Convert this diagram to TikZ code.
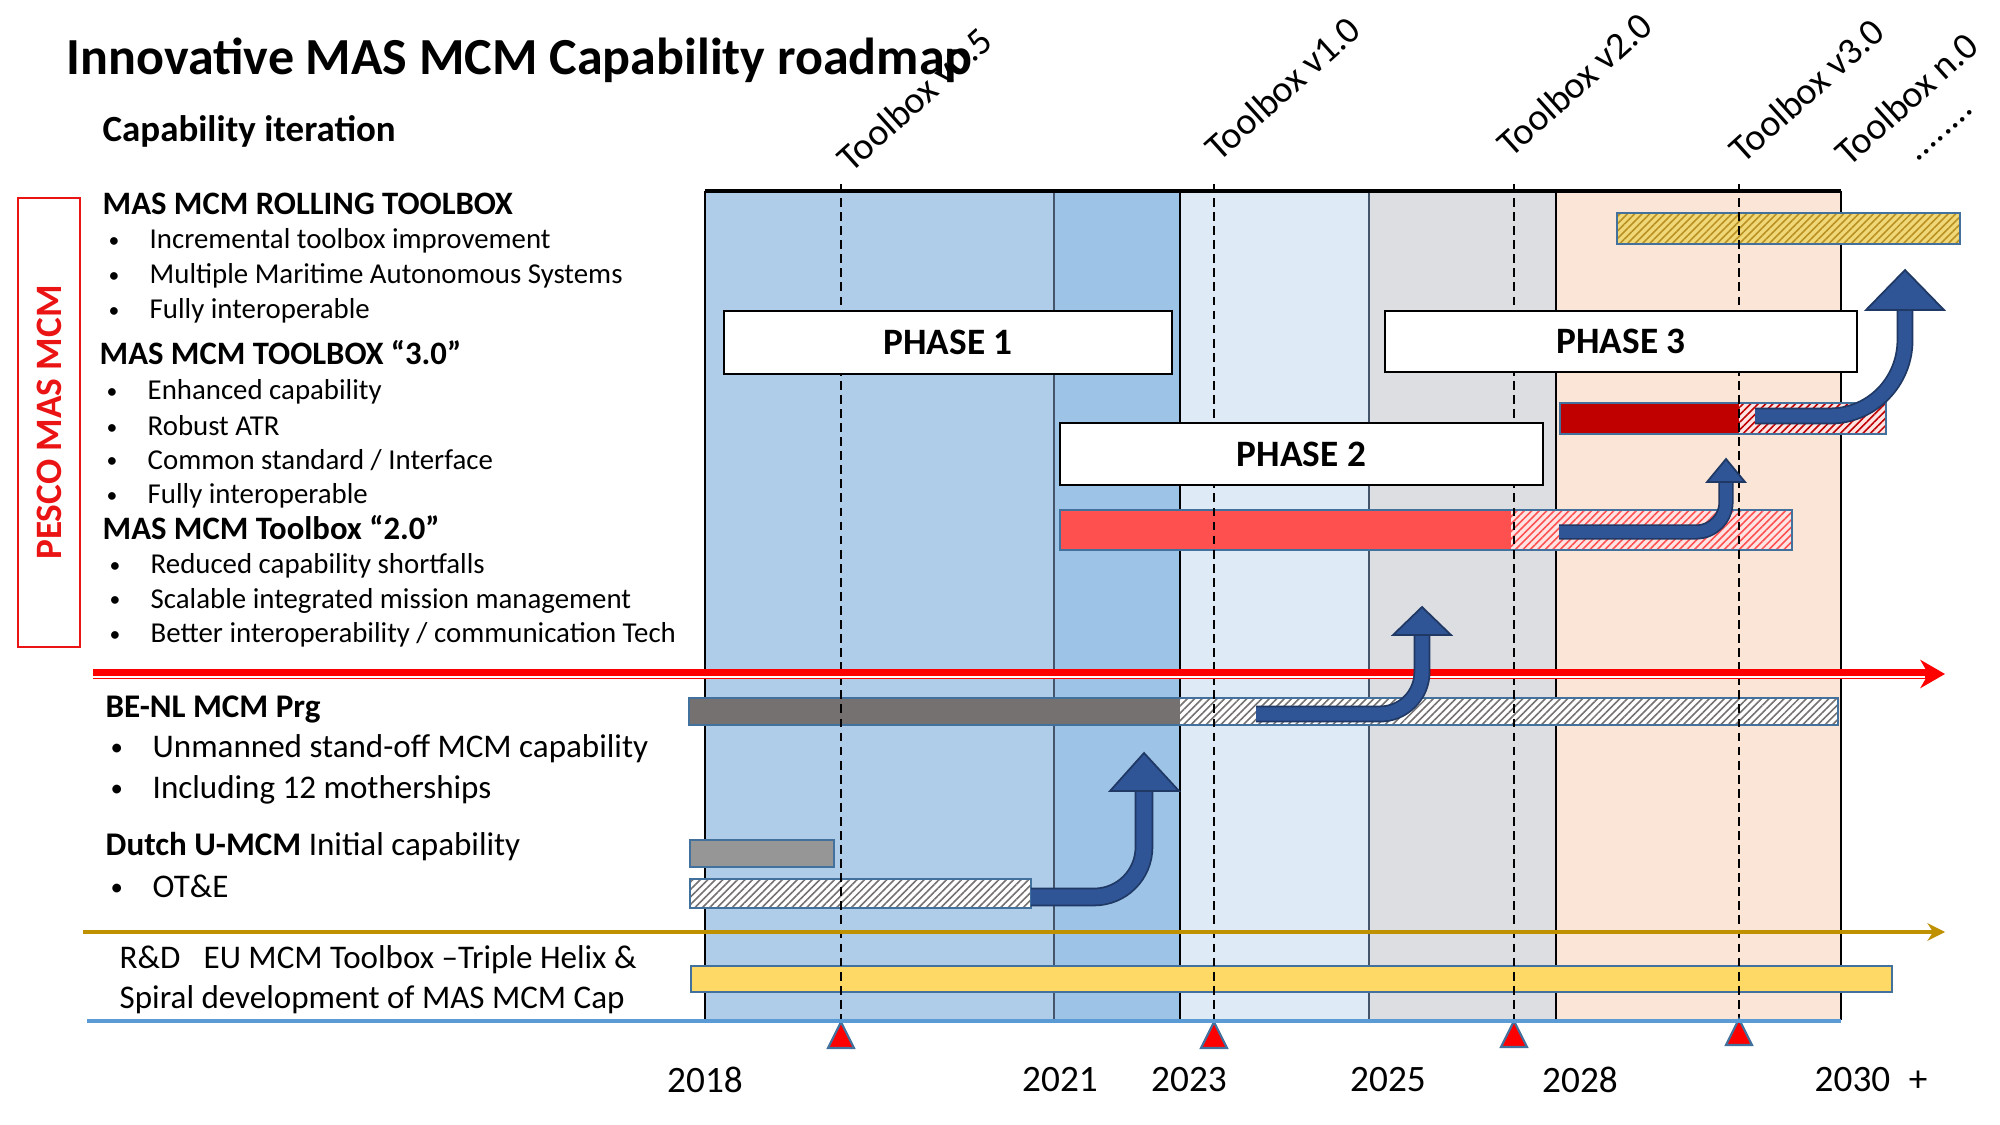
\documentclass[tikz,border=0pt]{standalone}
\usepackage{fontspec}
\setmainfont{Carlito}
\usepackage{tikz}
\usetikzlibrary{arrows.meta,patterns.meta}

\definecolor{colA}{RGB}{175,205,233}
\definecolor{colB}{RGB}{157,195,230}
\definecolor{colC}{RGB}{222,235,247}
\definecolor{colD}{RGB}{220,222,226}
\definecolor{colE}{RGB}{251,229,214}
\definecolor{slate}{RGB}{68,84,106}
\definecolor{barline}{RGB}{65,113,156}
\definecolor{redbar}{RGB}{255,80,80}
\definecolor{darkred}{RGB}{192,0,0}
\definecolor{pinkbg}{RGB}{255,228,228}
\definecolor{graybar}{RGB}{118,113,113}
\definecolor{midgray}{RGB}{150,150,150}
\definecolor{yelbar}{RGB}{255,217,102}
\definecolor{yelbg}{RGB}{240,215,120}
\definecolor{olive}{RGB}{185,145,35}
\definecolor{gold}{RGB}{191,144,0}
\definecolor{arrblue}{RGB}{47,85,151}
\definecolor{arrdark}{RGB}{31,56,100}
\definecolor{axisblue}{RGB}{91,155,213}
\definecolor{pesco}{RGB}{235,20,20}

\newcommand{\dotmark}{\raisebox{0.12ex}{\scalebox{0.75}{\textbullet}}}
\newcommand{\bul}{\makebox[0.41cm][l]{\dotmark}}
\newcommand{\bigbul}{\makebox[0.42cm][l]{\dotmark}}
\newcommand{\hatchfill}[4]{%
  \fill[#1] #3 rectangle #4;
  \fill[pattern={Lines[angle=45,distance=1.5pt,line width=0.45pt]},pattern color=#2] #3 rectangle #4;}

\begin{document}
\begin{tikzpicture}[x=0.01cm,y=-0.01cm,
  head/.style={anchor=west,inner sep=0pt,font=\fontsize{9.3}{11}\selectfont\bfseries},
  item/.style={anchor=west,inner sep=0pt,font=\fontsize{8.2}{10}\selectfont},
  bigitem/.style={anchor=west,inner sep=0pt,font=\fontsize{9.4}{11}\selectfont},
  year/.style={inner sep=0pt,font=\fontsize{10.6}{12}\selectfont},
  tool/.style={anchor=base west,rotate=42,inner sep=0pt,font=\fontsize{10.8}{12}\selectfont},
  phase/.style={draw=black,fill=white,line width=0.6pt,inner sep=0pt,font=\fontsize{10.6}{12}\selectfont\bfseries},
  bar/.style={draw=barline,line width=0.6pt},
  bend/.style={draw=arrdark,line width=0.5pt,double=arrblue,double distance=#1},
  tip/.style={fill=arrblue,draw=arrdark,line width=0.5pt}]
\useasboundingbox (0,0) rectangle (2000,1125);

% time columns
\fill[colA] (705,191) rectangle (1054,1020);
\fill[colB] (1054,191) rectangle (1180,1020);
\fill[colC] (1180,191) rectangle (1369,1020);
\fill[colD] (1369,191) rectangle (1556,1020);
\fill[colE] (1556,191) rectangle (1841,1020);
\draw[slate,line width=0.5pt] (1054,191) -- (1054,1020) (1369,191) -- (1369,1020);
\draw[black,line width=0.5pt] (705,191) -- (705,1020) (1180,191) -- (1180,1020) (1556,191) -- (1556,1020);
\draw[black,line width=0.8pt] (1841,191) -- (1841,1020) (705,1020) -- (1841,1020);
\draw[black,line width=1.1pt] (705,191) -- (1841,191);

% bars
\hatchfill{yelbg}{olive}{(1617,213)}{(1960,244)}
\draw[bar] (1617,213) rectangle (1960,244);
\fill[darkred] (1560,403) rectangle (1739,434);
\hatchfill{pinkbg}{darkred}{(1739,403)}{(1886,434)}
\draw[bar] (1560,403) rectangle (1886,434);
\fill[redbar] (1060,510) rectangle (1511,550);
\hatchfill{pinkbg}{redbar}{(1511,510)}{(1792,550)}
\draw[bar] (1060,510) rectangle (1792,550);
\fill[graybar] (689,698) rectangle (1180,725);
\hatchfill{white}{graybar}{(1180,698)}{(1838,725)}
\draw[bar] (689,698) rectangle (1838,725);
\draw[bar,fill=midgray] (690,840) rectangle (834,867);
\hatchfill{white}{graybar}{(690,879)}{(1031,908)}
\draw[bar] (690,879) rectangle (1031,908);
\draw[bar,fill=yelbar] (691,966) rectangle (1892,992);

% milestones
\foreach \x/\t [count=\i] in {841/1022,1214/1022,1514/1021,1739/1019}{
  \draw[black,line width=0.3pt,dash pattern=on 2.5pt off 1.5pt] (\x,184) -- (\x,\t);
  \filldraw[fill=red,draw=barline,line width=0.6pt] (\x-13,\t+26) -- (\x+13,\t+26) -- (\x,\t) -- cycle;
}

% phases
\node[phase,minimum width=4.48cm,minimum height=0.63cm] (ph1) at (948,342.5) {PHASE 1};
\node[phase,minimum width=4.72cm,minimum height=0.61cm] (ph3) at (1621,341.5) {PHASE 3};
\node[phase,minimum width=4.83cm,minimum height=0.62cm] (ph2) at (1301.5,454) {PHASE 2};

% separators
\draw[red,line width=2.8pt,-{Stealth[length=7pt,width=8pt]}] (93,674) -- (1945,674);
\draw[white,line width=0.35pt] (93,677) -- (1925,677);
\draw[gold,line width=1.3pt,-{Stealth[length=5pt,width=5pt]}] (83,932) -- (1945,932);
\draw[axisblue,line width=1.2pt] (87,1021) -- (1841,1021);

% transitions
\coordinate (aS) at (1031,897); \coordinate (aT) at (1144,753);
\coordinate (bS) at (1256,714); \coordinate (bT) at (1422,607);
\coordinate (cS) at (1559,532); \coordinate (cT) at (1726,459);
\coordinate (dS) at (1755,416); \coordinate (dT) at (1905,270);
\draw[bend=4.3pt] (aS) -- (1094,897) to[out=0,in=-90] (1144,847) -- (1144,791);
\filldraw[tip] (1110,791) -- (1179,791) -- (aT) -- cycle;
\draw[bend=3.8pt] (bS) -- (1380,714) to[out=0,in=-90] (1422,672) -- (1422,635);
\filldraw[tip] (1393,635) -- (1451,635) -- (bT) -- cycle;
\draw[bend=3.3pt] (cS) -- (1696,532) to[out=0,in=-90] (1726,502) -- (1726,482);
\filldraw[tip] (1707,482) -- (1745,482) -- (cT) -- cycle;
\draw[bend=3.8pt] (dS) -- (1830,416) to[out=0,in=-90] (1905,340) -- (1905,310);
\filldraw[tip] (1866,310) -- (1944,310) -- (dT) -- cycle;

% toolbox releases
\foreach \x/\y/\t [count=\i] in {851/174/Toolbox v0.5,1219/163/Toolbox v1.0,1511/159/Toolbox v2.0,1743/165/Toolbox v3.0,1849/168/Toolbox n.0}
  \node[tool] (tb\i) at (\x,\y) {\t};
\node[tool] (tbdots) at (1917,163) {........};

% years
\node[year] (y18) at (705,1080) {2018};
\node[year] (y21) at (1060,1080) {2021};
\node[year] (y23) at (1189,1080) {2023};
\node[year] (y25) at (1388,1080) {2025};
\node[year] (y28) at (1580,1080) {2028};
\node[year,anchor=west] (y30) at (1814,1080) {2030\hspace{0.5em}+};

% titles
\node[anchor=west,inner sep=0pt,font=\fontsize{14.8}{17}\selectfont\bfseries] (title) at (66,60) {Innovative MAS MCM Capability roadmap};
\node[anchor=west,inner sep=0pt,font=\fontsize{10.5}{12}\selectfont\bfseries] (iter) at (102,131) {Capability iteration};
\node[draw=pesco,line width=0.5pt,text=pesco,rotate=90,minimum width=4.49cm,minimum height=0.62cm,inner sep=0pt,font=\fontsize{10.6}{12}\selectfont\bfseries] (pesco) at (49,422.5) {PESCO MAS MCM};

% PESCO toolbox iterations
\node[head] (h1) at (102,204) {MAS MCM ROLLING TOOLBOX};
\node[item] (i11) at (108,241) {\bul Incremental toolbox improvement};
\node[item] (i12) at (108,276) {\bul Multiple Maritime Autonomous Systems};
\node[item] (i13) at (108,311) {\bul Fully interoperable};
\node[head] (h2) at (99,353) {MAS MCM TOOLBOX “3.0”};
\node[item] (i21) at (106,392) {\bul Enhanced capability};
\node[item] (i22) at (106,426) {\bul Robust ATR};
\node[item] (i23) at (106,460) {\bul Common standard / Interface};
\node[item] (i24) at (106,496) {\bul Fully interoperable};
\node[head] (h3) at (102,528) {MAS MCM Toolbox “2.0”};
\node[item] (i31) at (109,566) {\bul Reduced capability shortfalls};
\node[item] (i32) at (109,601) {\bul Scalable integrated mission management};
\node[item] (i33) at (109,635) {\bul Better interoperability / communication Tech};

% national programmes
\node[bigitem,font=\fontsize{9.4}{11}\selectfont\bfseries] (benl) at (105,709) {BE-NL MCM Prg};
\node[bigitem] (b1) at (110,749) {\bigbul Unmanned stand-off MCM capability};
\node[bigitem] (b2) at (110,790) {\bigbul Including 12 motherships};
\node[bigitem] (dutch) at (105,847) {\textbf{Dutch U-MCM} Initial capability};
\node[bigitem] (d1) at (110,886) {\bigbul OT\&E};
\node[bigitem] (rd1) at (119,960) {R\&D\hspace{0.7em}EU MCM Toolbox –Triple Helix \&};
\node[bigitem] (rd2) at (119,1000) {Spiral development of MAS MCM Cap};
\end{tikzpicture}
\end{document}
